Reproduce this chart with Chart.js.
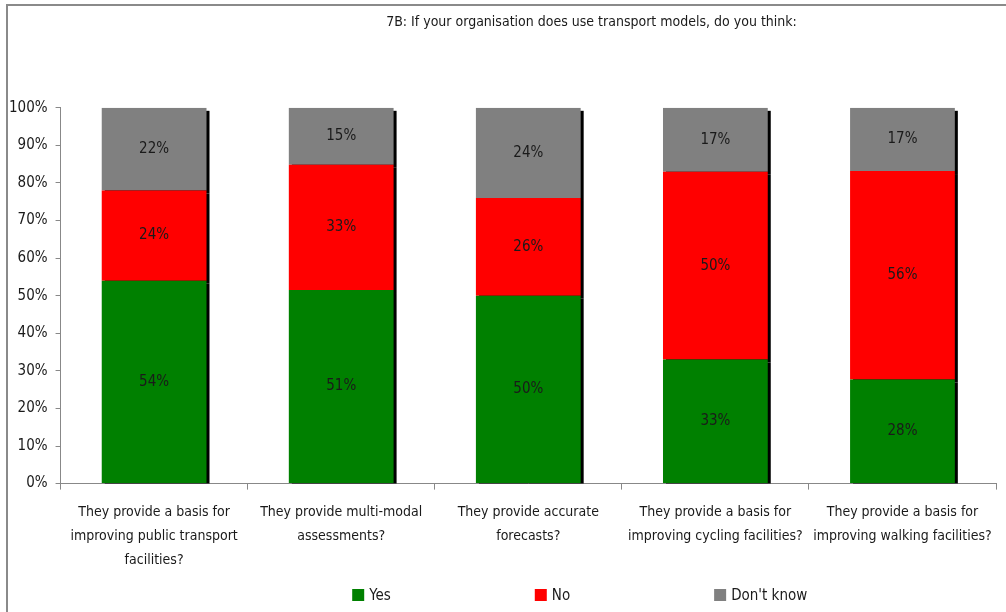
<!DOCTYPE html>
<html>
<head>
<meta charset="utf-8">
<script src="https://cdn.jsdelivr.net/npm/chart.js@4/dist/chart.umd.min.js"></script>
<style>
  html, body { margin: 0; padding: 0; background: #fff; overflow: hidden; }
  #wrap { position: relative; width: 1006px; height: 612px; }
  #frame {
    position: absolute; left: 6px; top: 4px; right: -10px; bottom: -10px;
    border-top: 2px solid #8a8a8a; border-left: 2px solid #8a8a8a;
    pointer-events: none;
  }
  canvas { position: absolute; left: 0; top: 0; }
</style>
</head>
<body>
<div id="wrap">
  <canvas id="survey-chart" width="1006" height="612"></canvas>
  <div id="frame"></div>
</div>
<script>
const FONT = "'Liberation Sans Narrow', 'DejaVu Sans Condensed', sans-serif";

const title = '7B: If your organisation does use transport models, do you think:';

const categories = [
  ['They provide a basis for', 'improving public transport', 'facilities?'],
  ['They provide multi-modal', 'assessments?'],
  ['They provide accurate', 'forecasts?'],
  ['They provide a basis for', 'improving cycling facilities?'],
  ['They provide a basis for', 'improving walking facilities?']
];

const seriesNames = ['Yes', 'No', "Don't know"];
const seriesColors = ['#008000', '#ff0000', '#808080'];

const yes = [54, 51, 50, 33, 28];
const no = [24, 33, 26, 50, 56];
const dontKnow = [22, 15, 24, 17, 17];

const yTicks = [0, 10, 20, 30, 40, 50, 60, 70, 80, 90, 100];

// answers are stacked to 100% of each question's total
const series = [yes, no, dontKnow];
const totals = categories.map((_, i) => series.reduce((s, arr) => s + arr[i], 0));

const datasets = series.map((values, k) => ({
  label: seriesNames[k],
  data: values.map((v, i) => v / totals[i] * 100),
  raw: values,
  backgroundColor: seriesColors[k],
  borderWidth: 0,
  barPercentage: 0.56,
  categoryPercentage: 1
}));

// black drop shadow to the lower right of every segment
const barShadow = {
  id: 'barShadow',
  beforeDatasetsDraw(chart) {
    const { ctx, chartArea } = chart;
    ctx.save();
    ctx.beginPath();
    ctx.rect(chartArea.left, chartArea.top - 5, chartArea.width, chartArea.height + 5);
    ctx.clip();
    ctx.fillStyle = '#000';
    chart.data.datasets.forEach((ds, i) => {
      chart.getDatasetMeta(i).data.forEach(bar => {
        const { x, y, base, width } = bar.getProps(['x', 'y', 'base', 'width'], true);
        ctx.fillRect(x - width / 2 + 3, Math.min(y, base) + 3, width, Math.abs(base - y));
      });
    });
    ctx.restore();
  }
};

// percentage text in the middle of each segment
const segmentLabels = {
  id: 'segmentLabels',
  afterDatasetsDraw(chart) {
    const ctx = chart.ctx;
    ctx.save();
    ctx.font = '15px ' + FONT;
    ctx.fillStyle = '#1a1a1a';
    ctx.textAlign = 'center';
    ctx.textBaseline = 'middle';
    chart.data.datasets.forEach((ds, i) => {
      chart.getDatasetMeta(i).data.forEach((bar, j) => {
        const { x, y, base } = bar.getProps(['x', 'y', 'base'], true);
        ctx.fillText(ds.raw[j] + '%', x, (y + base) / 2);
      });
    });
    ctx.restore();
  }
};

// wide-spaced legend row under the axis labels
const spacedLegend = {
  id: 'spacedLegend',
  afterDraw(chart) {
    const { ctx, chartArea } = chart;
    const box = 12, gap = 5, spacing = 144;
    ctx.save();
    ctx.font = '15px ' + FONT;
    ctx.textBaseline = 'middle';
    const items = chart.data.datasets.map(ds => ({
      text: ds.label, color: ds.backgroundColor, w: box + gap + ctx.measureText(ds.label).width
    }));
    const total = items.reduce((s, it) => s + it.w, 0) + spacing * (items.length - 1);
    let x = chartArea.left + chartArea.width * 0.555 - total / 2;
    const y = chart.height - 17;
    items.forEach(it => {
      ctx.fillStyle = it.color;
      ctx.fillRect(x, y - box / 2, box, box);
      ctx.fillStyle = '#1a1a1a';
      ctx.fillText(it.text, x + box + gap, y + 1);
      x += it.w + spacing;
    });
    ctx.restore();
  }
};

// title sits a little right of the canvas centre
const shiftTitle = {
  id: 'shiftTitle',
  afterLayout(chart) {
    chart.titleBlock.left += 93;
    chart.titleBlock.right += 93;
  }
};

new Chart(document.getElementById('survey-chart'), {
  type: 'bar',
  data: { labels: categories, datasets },
  plugins: [barShadow, segmentLabels, spacedLegend, shiftTitle],
  options: {
    responsive: false,
    animation: false,
    layout: { padding: { left: 1, right: 10, top: 10, bottom: 29 } },
    plugins: {
      title: {
        display: true,
        text: title,
        color: '#1a1a1a',
        font: { family: FONT, size: 14, weight: 'normal' },
        padding: { top: 4, bottom: 77 }
      },
      legend: { display: false },
      tooltip: { enabled: false }
    },
    scales: {
      x: {
        stacked: true,
        grid: { drawOnChartArea: false, drawTicks: true, tickLength: 6, color: '#888' },
        border: { color: '#888' },
        ticks: {
          color: '#1a1a1a',
          font: { family: FONT, size: 14, lineHeight: 1.7 },
          maxRotation: 0,
          autoSkip: false,
          padding: 11
        }
      },
      y: {
        stacked: true,
        min: 0,
        max: 100,
        afterBuildTicks(scale) {
          scale.ticks = yTicks.map(v => ({ value: v }));
        },
        grid: { drawOnChartArea: false, drawTicks: true, tickLength: 5, color: '#888' },
        border: { color: '#888' },
        ticks: {
          color: '#1a1a1a',
          font: { family: FONT, size: 15 },
          padding: 8,
          callback: v => v + '%'
        }
      }
    }
  }
});
</script>
</body>
</html>
